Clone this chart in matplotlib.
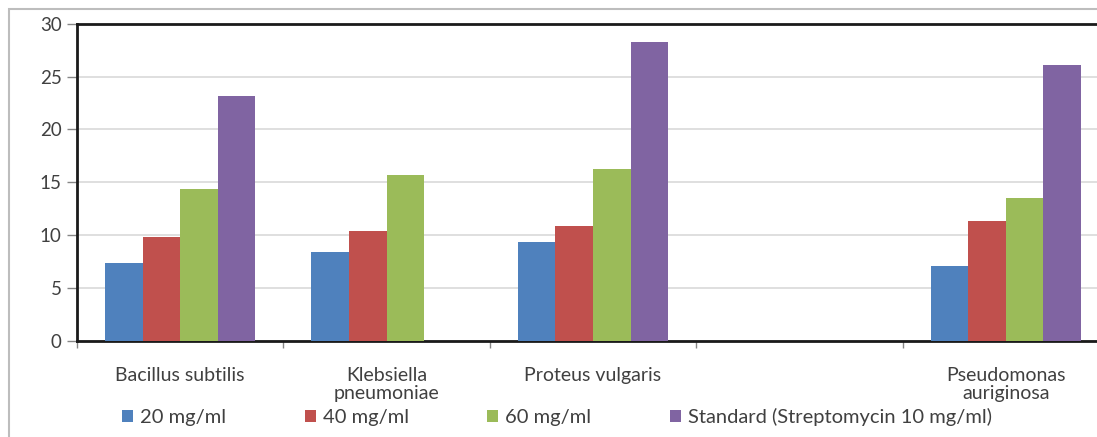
import numpy as np
import matplotlib
matplotlib.use("Agg")
import matplotlib.pyplot as plt
from matplotlib.patches import Patch, Rectangle

nan = np.nan
categories = ["Bacillus subtilis", "Klebsiella\npneumoniae", "Proteus vulgaris", "", "Pseudomonas\nauriginosa"]
series_names = ["20 mg/ml", "40 mg/ml", "60 mg/ml", "Standard (Streptomycin 10 mg/ml)"]
v20 = [7.3, 8.4, 9.3, nan, 7.1]
v40 = [9.8, 10.4, 10.9, nan, 11.3]
v60 = [14.4, 15.7, 16.3, nan, 13.5]
vstd = [23.2, nan, 28.3, nan, 26.1]
yticks = [0, 5, 10, 15, 20, 25, 30]

colors = ["#4F81BD", "#C0504D", "#9BBB59", "#8064A2"]
plt.rcParams['font.family'] = ['Lato', 'DejaVu Sans']

W, H = 1097, 437
fig = plt.figure(figsize=(W / 100, H / 100), dpi=100)
ax = fig.add_axes([77 / W, 1 - 340.5 / H, 1032 / W, (340.5 - 24) / H])

x = np.arange(len(categories))
bw = 0.182
for i, (vals, c, name) in enumerate(zip([v20, v40, v60, vstd], colors, series_names)):
    ax.bar(x + (i - 1.5) * bw, vals, width=bw, color=c, label=name, zorder=3)

ax.set_xlim(-0.5, len(categories) - 0.5)
ax.set_ylim(0, 30)
ax.set_yticks(yticks)
ax.yaxis.grid(True, color="#d9d9d9", linewidth=1.2, zorder=0)
ax.set_xticks(x)
ax.set_xticklabels(categories, fontsize=14, color="#404040", linespacing=1.1)
ax.set_xticks(np.arange(-0.5, len(categories) - 0.5, 1.0), minor=True)
ax.tick_params(axis='x', which='major', length=0, pad=19)
ax.tick_params(axis='x', which='minor', length=5, color="#868686", width=1)
ax.tick_params(axis='y', length=7, color="#868686", width=1, labelsize=13.5, labelcolor="#404040", pad=4)
for s in ["left", "bottom", "top"]:
    ax.spines[s].set_linewidth(2.0)
    ax.spines[s].set_color("#1a1a1a")
ax.spines["right"].set_visible(False)

# outer chart border
fig.patches.append(Rectangle((9 / W, -0.1), 1.2, 1 - 9 / H + 0.1, transform=fig.transFigure,
                             fill=False, edgecolor="#bdbdbd", linewidth=1.5))

handles = [Patch(facecolor=c, edgecolor='none') for c in colors]
fig.legend(handles, series_names, loc='center', bbox_to_anchor=(557 / W, 1 - 417 / H),
           ncol=4, frameon=False, fontsize=14.5, handlelength=0.55, handleheight=0.55,
           handletextpad=0.35, columnspacing=3.9, labelcolor="#404040")

fig.savefig("out.png", dpi=100)
